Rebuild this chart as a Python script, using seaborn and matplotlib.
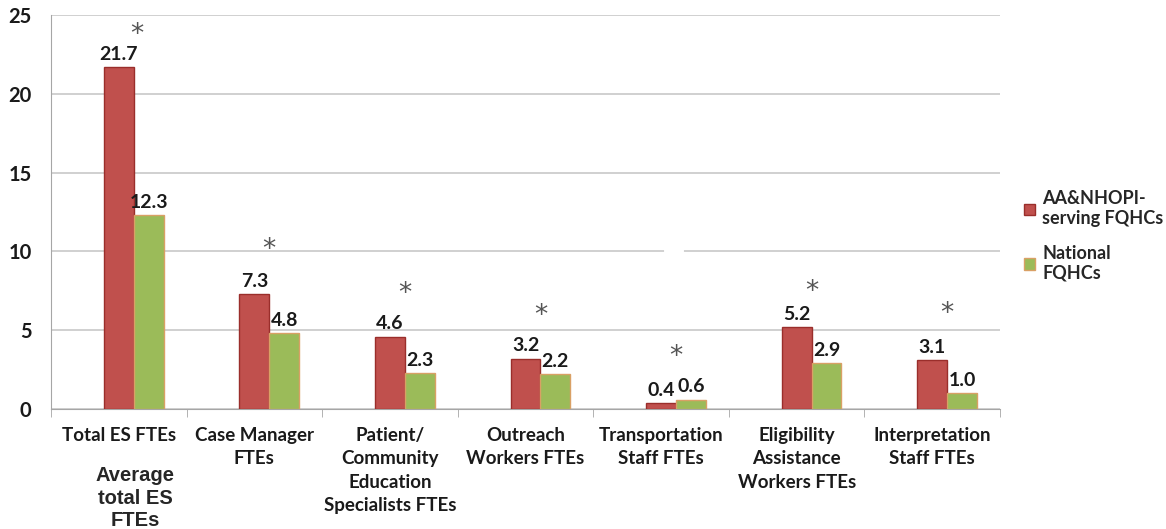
import numpy as np
import pandas as pd
import seaborn as sns
import matplotlib.pyplot as plt
from matplotlib.patches import Patch

categories = ["Total ES FTEs", "Case Manager\nFTEs",
              "Patient/\nCommunity\nEducation\nSpecialists FTEs",
              "Outreach\nWorkers FTEs", "Transportation\nStaff FTEs",
              "Eligibility\nAssistance\nWorkers FTEs", "Interpretation\nStaff FTEs"]
aa_nhopi = [21.7, 7.3, 4.6, 3.2, 0.4, 5.2, 3.1]
national = [12.3, 4.8, 2.3, 2.2, 0.6, 2.9, 1.0]
star_y = [23.7, 10.1, 7.3, 5.9, 3.3, 7.4, 6.0]
series = ["blank", "AA&NHOPI-\nserving FQHCs", "National\nFQHCs"]

df = pd.DataFrame({
    "category": categories * 3,
    "series": np.repeat(series, len(categories)),
    "value": [0.0] * len(categories) + aa_nhopi + national,
})

sns.set_style("white")
plt.rcParams["font.family"] = ["Lato", "DejaVu Sans"]

red, green = "#C0504D", "#9BBB59"
fig = plt.figure(figsize=(11.66, 5.29), dpi=100)
ax = fig.add_axes([51 / 1166, 1 - 409 / 529, 949 / 1166, 394 / 529])

# an empty first series keeps the bars off-centre, as in the original
sns.barplot(data=df, x="category", y="value", hue="series", hue_order=series,
            palette={"blank": "white", series[1]: red, series[2]: green},
            width=0.66, saturation=1, errorbar=None, legend=False, ax=ax, zorder=3)

for p in ax.containers[0]:
    p.set_visible(False)
for cont, ec in [(ax.containers[1], "#9A2E2B"), (ax.containers[2], "#D9A065")]:
    for p in cont:
        p.set_edgecolor(ec)
        p.set_linewidth(1)
    ax.bar_label(cont, fmt="%.1f", padding=3, fontsize=14, fontweight="bold", color="#1A1A1A")

for i, y in enumerate(star_y):
    ax.text(i + 0.13 if i == 0 else i + 0.11, y, "*", ha="center", va="center", fontsize=19,
            color="#555555", family="DejaVu Sans")

ax.set_xlim(-0.5, 6.5)
ax.set_ylim(0, 25)
ax.set_yticks(range(0, 26, 5))
ax.yaxis.grid(True, color="#C8C8C8", lw=1.2, zorder=0)
ax.set_axisbelow(True)
ax.plot([4.035, 4.153], [10, 10], color="white", lw=3, zorder=1)
ax.set_xlabel("")
ax.set_ylabel("")
for s in ["top", "right"]:
    ax.spines[s].set_visible(False)
for s in ["left", "bottom"]:
    ax.spines[s].set_color("#A6A6A6")
ax.set_xticks(np.arange(-0.5, 7, 1), minor=True)
ax.tick_params(axis="x", which="major", length=0, pad=13, labelsize=13.5)
ax.tick_params(axis="x", which="minor", length=6, color="#A6A6A6", direction="out", bottom=True)
ax.tick_params(axis="y", length=0, pad=14, labelsize=14.5)
for lab in ax.get_xticklabels():
    lab.set_linespacing(1.45)
for lab in ax.get_xticklabels() + ax.get_yticklabels():
    lab.set_fontweight("bold")
    lab.set_color("#1A1A1A")

fig.text(135 / 1166, 1 - 466 / 529, "Average\ntotal ES\nFTEs", ha="center", va="top",
         family="Liberation Sans", fontweight="bold", fontsize=14.5, linespacing=1.25)

handles = [Patch(facecolor=red, edgecolor="#9A2E2B"), Patch(facecolor=green, edgecolor="#D9A065")]
fig.legend(handles, series[1:], loc="upper left", bbox_to_anchor=(1008 / 1166, 1 - 174 / 529),
           frameon=False, handlelength=0.6, handleheight=0.6, handletextpad=0.4,
           labelspacing=1.0, prop={"family": "Lato", "weight": "bold", "size": 13})

fig.savefig("out.png", dpi=100)
